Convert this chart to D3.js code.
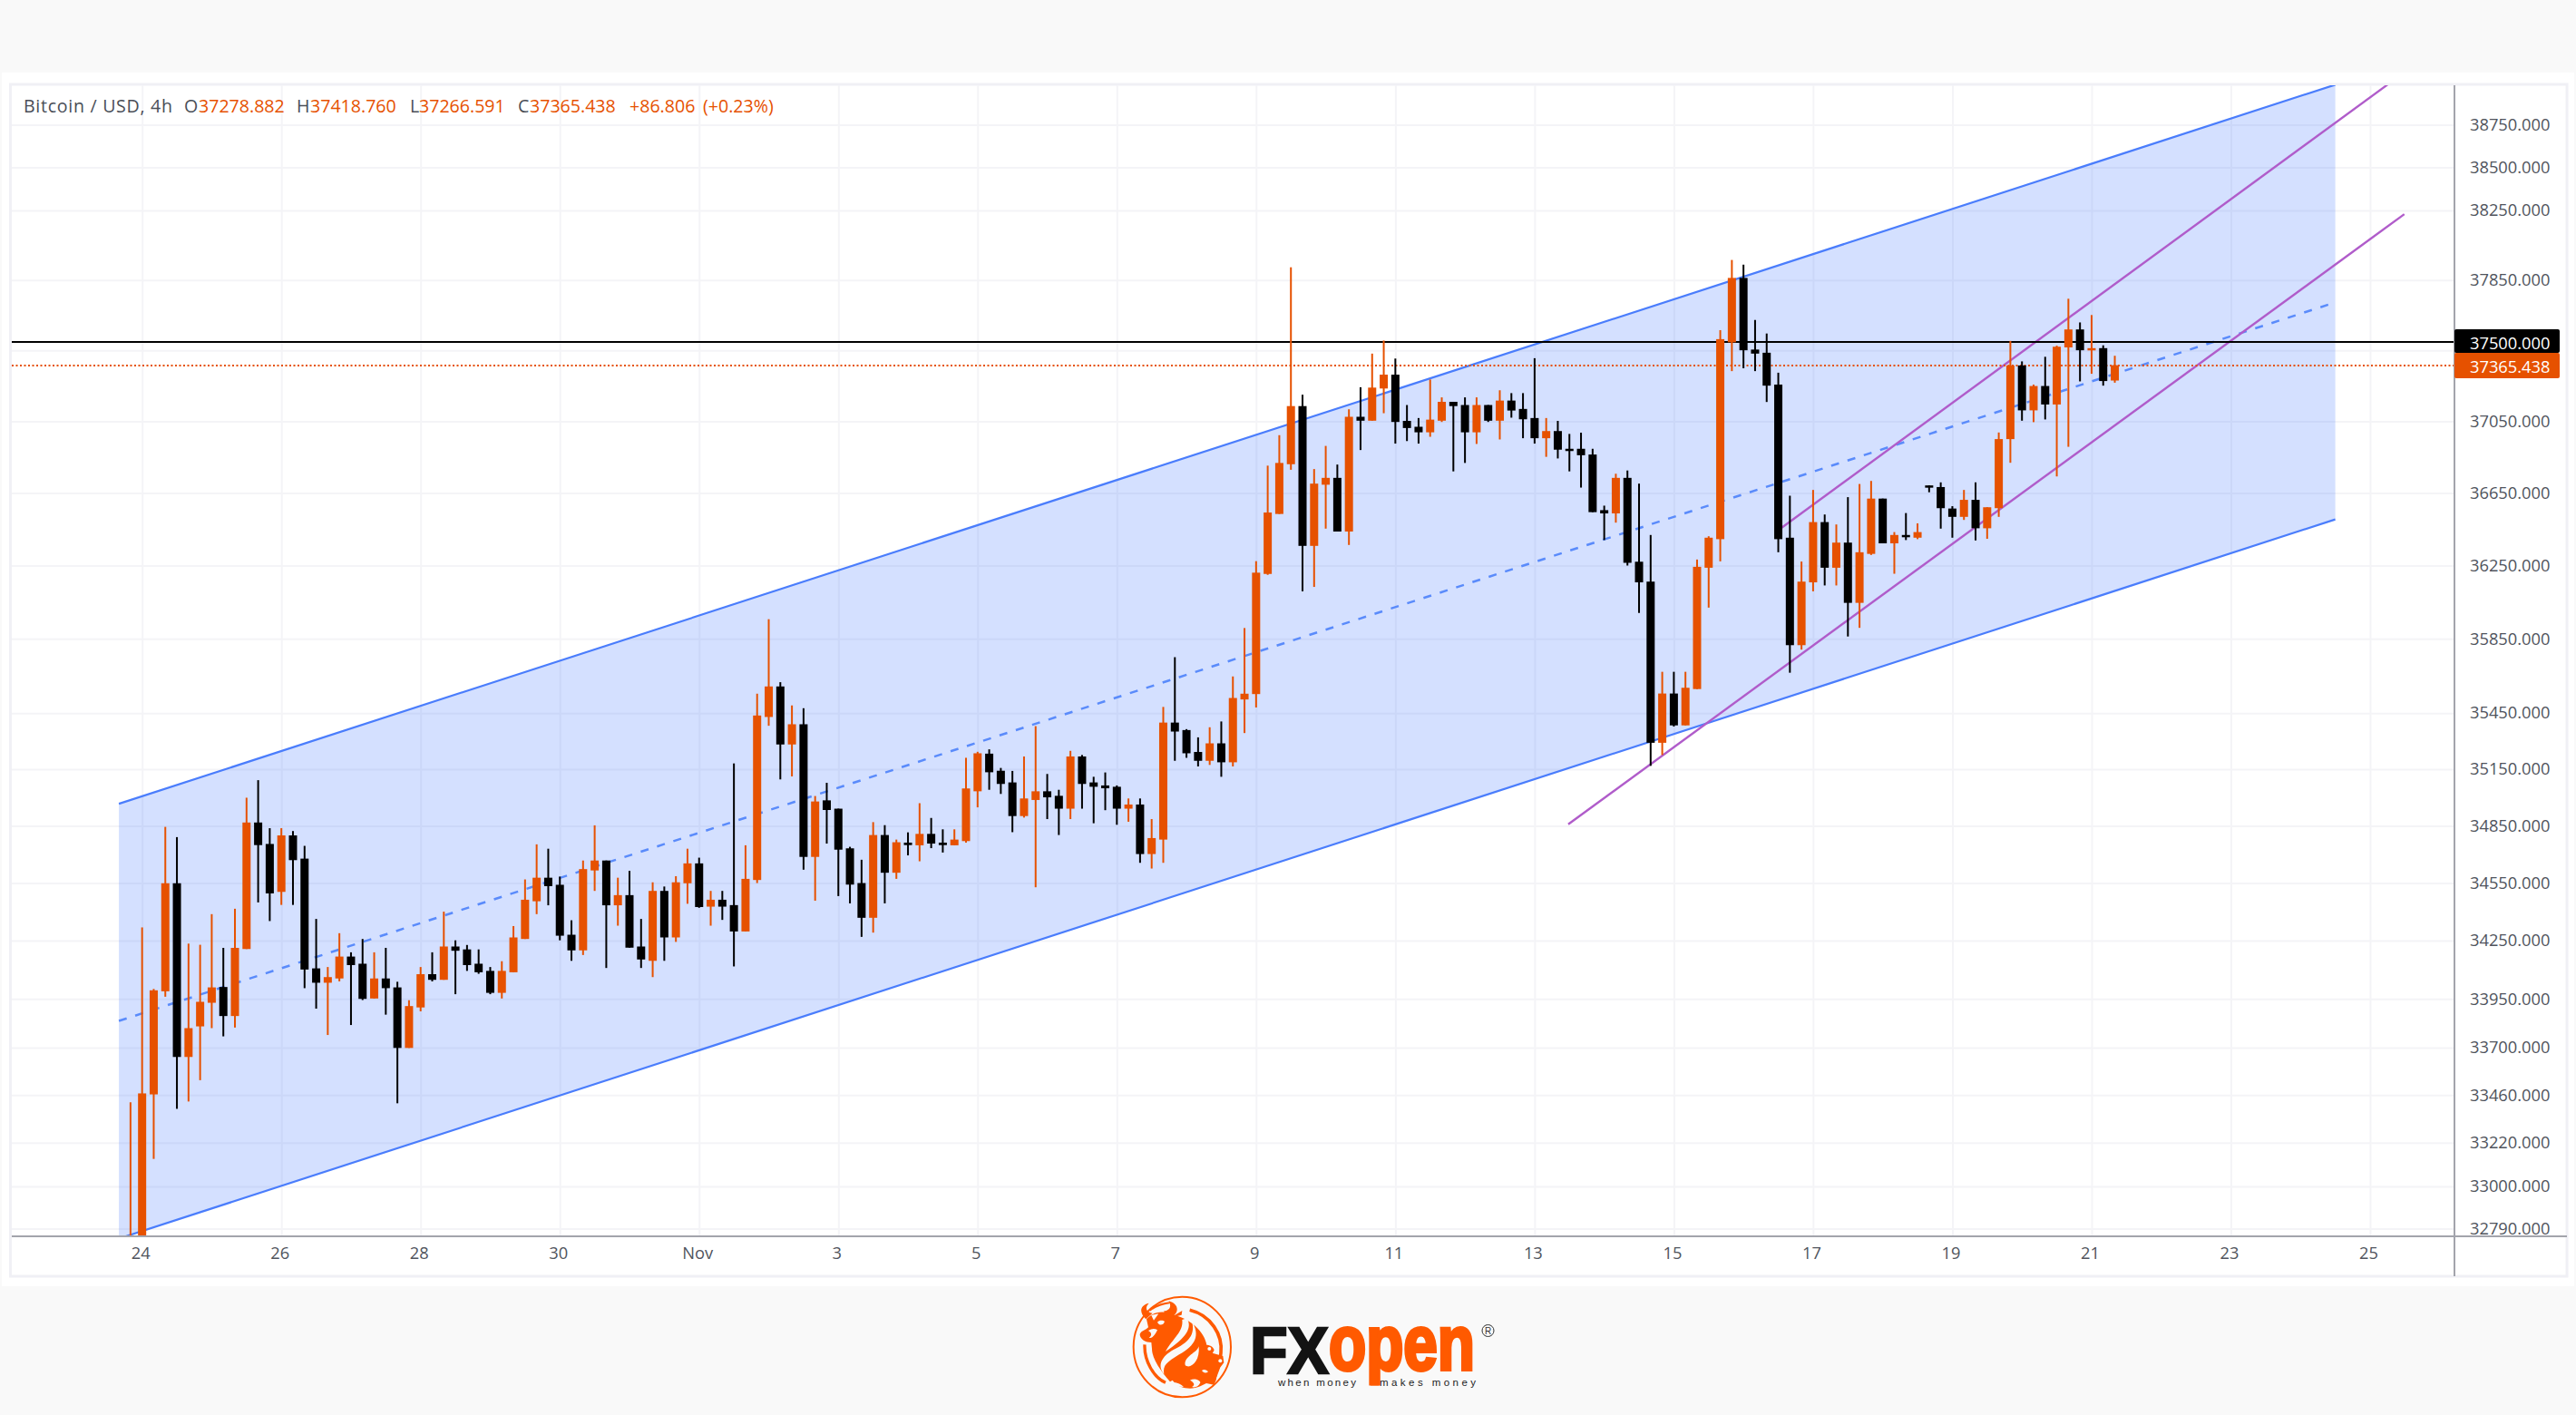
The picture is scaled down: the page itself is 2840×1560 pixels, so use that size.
<!DOCTYPE html>
<html><head><meta charset="utf-8">
<style>html,body{margin:0;padding:0;background:#f9f9f9}svg{display:block}</style>
<script src="https://cdn.jsdelivr.net/npm/d3@7"></script></head>
<body><svg id="c" width="2840" height="1560"></svg>
<script>
// candle index 0 = 24 Oct 00:00, one candle per 4 hours; the series starts at index -1
const firstIndex = -1;
const opens = [32600,32700,33463,33989,34549,33653,33809,33930,34011,33862,
34207,34868,34755,34504,34800,34678,34107,34033,34055,34168,
34131,33952,34055,34009,33699,33906,34077,34048,34220,34205,
34131,34094,33981,34087,34259,34455,34578,34541,34281,34200,
34616,34668,34434,34487,34220,34146,34509,34267,34549,34653,
34427,34463,34435,34298,34566,35429,35593,35282,35390,34687,
34985,34941,34732,34550,34369,34802,34604,34762,34748,34808,
34762,34748,34770,35033,35233,35142,35080,34902,34987,35033,
35009,34941,35218,35080,35064,35057,34941,34963,34702,34778,
35399,35359,35242,35195,35288,35187,35523,35552,36204,36534,
36810,37135,36358,36696,36734,36437,37075,37053,37234,37312,
37052,37019,36988,37053,37159,37141,36988,37141,37053,37166,
37119,37068,36955,36995,36896,36896,36864,36555,36537,36734,
36271,36162,35291,35555,35384,35579,36238,36395,37495,37862,
37454,37436,37256,36403,35816,36158,36489,36238,36376,36046,
36314,36619,36372,36418,36403,36692,36683,36564,36518,36612,
36455,36566,36950,37364,37111,37248,37144,37466,37568,37450,
37462,37278.882];
const highs = [33423,34319,34001,34845,34791,34235,34229,34388,34213,34416,
34999,35092,34838,34838,34823,34745,34363,34114,34289,34190,
34259,34190,34213,34038,33943,34114,34190,34401,34252,34228,
34205,34114,34144,34326,34569,34753,34730,34584,34356,34668,
34853,34668,34578,34614,34363,34554,34532,34586,34730,34683,
34509,34509,35181,34748,35554,35957,35616,35491,35476,35008,
35078,34941,34740,34672,34870,34854,34778,34816,34970,34892,
34832,34832,35211,35243,35256,35157,35141,35218,35380,35125,
35041,35248,35226,35110,35133,35064,34995,34995,34886,35483,
35751,35364,35320,35374,35405,35647,35909,36274,36802,36972,
37923,37199,36783,36912,36808,37117,37241,37431,37505,37403,
37141,37068,37285,37184,37159,37184,37184,37141,37224,37208,
37208,37405,37068,37052,36979,36986,36896,36580,36757,36775,
36702,36418,35672,35672,35672,36283,36411,37564,37965,37938,
37622,37545,37323,36635,36272,36667,36531,36476,36627,36700,
36717,36619,36434,36539,36482,36692,36709,36577,36667,36709,
36571,36987,37503,37387,37256,37413,37476,37743,37608,37650,
37478,37418.76];
const lows = [32500,32650,33138,33961,33390,33427,33535,33800,33758,33803,
34207,34449,34352,34436,34436,34005,33900,33765,34040,33816,
33944,33952,33869,33418,33699,33886,34040,34048,33974,34094,
34079,33974,33952,34087,34259,34388,34434,34252,34146,34176,
34509,34109,34328,34214,34109,34062,34146,34244,34442,34421,
34328,34358,34117,34298,34550,35382,35096,35112,34620,34458,
34757,34482,34444,34270,34292,34444,34572,34695,34664,34733,
34710,34748,34762,34948,35041,35019,34817,34894,34528,34886,
34802,34886,34941,34864,34933,34856,34872,34656,34626,34656,
35195,35211,35165,35173,35110,35165,35343,35480,36199,36534,
36779,36109,36133,36453,36437,36363,36889,37053,37095,36925,
36939,36925,36963,37046,36770,36817,36923,37046,36948,37070,
36955,36925,36851,36842,36770,36680,36544,36390,36486,36250,
35991,35168,35226,35378,35384,35579,36020,36273,37332,37348,
37332,37158,36323,35667,35792,36109,36141,36141,35863,35910,
36308,36372,36205,36390,36395,36654,36453,36403,36501,36388,
36397,36518,36818,37053,37045,37060,36742,36907,37274,37317,
37250,37266.591];
const closes = [32700,33468,33994,34549,33653,33800,33935,34009,33862,34213,
34868,34749,34496,34800,34670,34101,34033,34062,34168,34124,
33950,34055,34005,33699,33913,34077,34048,34220,34198,34124,
34087,33981,34094,34267,34463,34578,34534,34276,34200,34623,
34668,34434,34487,34214,34153,34509,34267,34554,34653,34425,
34463,34427,34298,34572,35437,35593,35282,35390,34687,34979,
34934,34725,34542,34369,34802,34604,34764,34749,34808,34757,
34749,34778,35048,35235,35134,35072,34902,34995,35033,35001,
34941,35218,35072,35057,35049,34941,34963,34702,34786,35399,
35351,35235,35195,35288,35187,35531,35554,36211,36542,36817,
37135,36358,36702,36734,36437,37075,37053,37239,37312,37046,
37012,36988,37059,37159,37135,36988,37141,37053,37166,37110,
37061,36955,36995,36891,36891,36860,36544,36537,36734,36265,
36158,35291,35555,35384,35586,36243,36403,37513,37862,37450,
37431,37250,36395,35816,36162,36489,36238,36376,36046,36323,
36619,36372,36418,36407,36434,36683,36566,36518,36612,36455,
36571,36950,37364,37111,37248,37144,37470,37568,37450,37462,
37276,37365.438];

const priceTicks = [38750,38500,38250,37850,37050,36650,36250,35850,35450,35150,34850,34550,34250,33950,33700,33460,33220,33000,32790];
const hiddenGridPrices = [37450];
const dayTickIndex = [0,12,24,36,48,60,72,84,96,108,120,132,144,156,168,180,192];
const dayTickLabels = ["24","26","28","30","Nov","3","5","7","9","11","13","15","17","19","21","23","25"];

const resistancePrice = 37500, lastPrice = 37365.438;
// drawings: [candle index, price]
const channelUpper = [[-2,34967],[189,38985]];
const channelMiddle = [[-2,33837],[189,37722]];
const channelLower = [[-2,32741],[189,36504]];
const purpleLower = [[122.9,34859],[194.95,38229]];
const purpleUpper = [[141.27,36457],[193.5,38985]];

const headerParts = [
 ["Bitcoin / USD, 4h",26,"#4a4e57",164],["O",203,"#4a4e57"],["37278.882",219,"#e65100"],
 ["H",327,"#4a4e57"],["37418.760",342,"#e65100"],["L",452,"#4a4e57"],["37266.591",462,"#e65100"],
 ["C",571,"#4a4e57"],["37365.438",584,"#e65100"],["+86.806",694,"#e65100"],["(+0.23%)",775,"#e65100"]];

const UP="#e65100", DOWN="#000000", FONT="'Open Sans',sans-serif";
const L=13,R=2706,T=94,B=1363,PR=2830,PB=1407;
const svg=d3.select("#c");

const x=d3.scaleLinear().domain([-11.23,199.27]).range([L,R]);
const y=d3.scaleLog().domain([32750,38979]).range([B+0.5,T+0.5]);

svg.append("rect").attr("width",2840).attr("height",1560).attr("fill","#f9f9f9");
svg.append("rect").attr("x",2).attr("y",80).attr("width",2836).attr("height",1338).attr("fill","#fff");
svg.append("rect").attr("x",11.5).attr("y",93).attr("width",PR-11.5).attr("height",PB-93).attr("fill","#fff").attr("stroke","#f0f0f5").attr("stroke-width",3);

const defs=svg.append("defs");
defs.append("clipPath").attr("id","plot").append("rect").attr("x",L).attr("y",T).attr("width",R-L).attr("height",B-T);

// grid via axes
const gridColor="#f4f4f7";
const gy=svg.append("g").attr("transform",`translate(${R},0)`)
  .call(d3.axisLeft(y).tickValues(priceTicks.concat(hiddenGridPrices)).tickSize(R-L).tickFormat(""));
const gx=svg.append("g").attr("transform",`translate(0,${B})`)
  .call(d3.axisTop(x).tickValues(dayTickIndex).tickSize(B-T).tickFormat(""));
[gy,gx].forEach(g=>{g.select(".domain").remove();g.selectAll("text").remove();g.selectAll("line").attr("stroke",gridColor).attr("stroke-width",2);});

const plot=svg.append("g").attr("clip-path","url(#plot)");
const lineGen=d3.line().x(d=>x(d[0])).y(d=>y(d[1]));

plot.append("path").attr("d",lineGen([channelUpper[0],channelUpper[1],channelLower[1],channelLower[0]])+"Z")
  .attr("fill","#2962ff").attr("fill-opacity",0.2);
[[channelUpper,null],[channelLower,null],[channelMiddle,"9 9.9"]].forEach(([d,dash])=>{
  plot.append("path").attr("d",lineGen(d)).attr("fill","none").attr("stroke",dash?"#5a8bfb":"#4a7dfc").attr("stroke-width",dash?2.5:2.2).attr("stroke-dasharray",dash);
});
[purpleLower,purpleUpper].forEach(d=>{
  plot.append("path").attr("d",lineGen(d)).attr("fill","none").attr("stroke","#b05cca").attr("stroke-width",2.4);
});
plot.append("line").attr("x1",L).attr("x2",R).attr("y1",Math.round(y(lastPrice))).attr("y2",Math.round(y(lastPrice)))
  .attr("stroke",UP).attr("stroke-width",2).attr("stroke-dasharray","2 2.5");
plot.append("line").attr("x1",L).attr("x2",R).attr("y1",Math.ceil(y(resistancePrice))).attr("y2",Math.ceil(y(resistancePrice)))
  .attr("stroke","#000").attr("stroke-width",2);

// candles
const candles=opens.map((o,i)=>({i:i+firstIndex,o,h:highs[i],l:lows[i],c:closes[i]}));
const cg=plot.append("g").selectAll("g").data(candles).join("g");
const col=d=>d.c>=d.o?UP:DOWN;
cg.append("rect").attr("x",d=>x(d.i)-1).attr("width",2)
  .attr("y",d=>y(d.h)).attr("height",d=>y(d.l)-y(d.h)).attr("fill",col);
cg.append("rect").attr("x",d=>x(d.i)-4.5).attr("width",9)
  .attr("y",d=>y(Math.max(d.o,d.c)))
  .attr("height",d=>Math.max(2.5,Math.abs(y(d.o)-y(d.c)))).attr("fill",col);

// axes
const ay=svg.append("g").attr("transform",`translate(${R},0)`)
  .call(d3.axisRight(y).tickValues(priceTicks).tickSize(0).tickPadding(17).tickFormat(d3.format(".3f")));
const ax=svg.append("g").attr("transform",`translate(-2,${B})`)
  .call(d3.axisBottom(x).tickValues(dayTickIndex).tickSize(0).tickPadding(12).tickFormat((d,i)=>dayTickLabels[i]));
[ay,ax].forEach(g=>{g.select(".domain").remove();g.selectAll("text").attr("font-family",FONT).attr("font-size",18.3).attr("fill","#50545d");});
svg.append("line").attr("x1",R).attr("x2",R).attr("y1",T).attr("y2",PB).attr("stroke","#a3a4ac").attr("stroke-width",2);
svg.append("line").attr("x1",L).attr("x2",PR).attr("y1",B).attr("y2",B).attr("stroke","#a3a4ac").attr("stroke-width",2);

// price labels
[[resistancePrice,"#000",363,26,2.5],[lastPrice,UP,389,28,1.5]].forEach(([p,c,yy,h,off])=>{
  svg.append("rect").attr("x",R).attr("y",yy).attr("width",116).attr("height",h).attr("rx",2).attr("fill",c);
  svg.append("text").attr("x",R+17).attr("y",yy+h/2+off).attr("dy","0.35em").attr("font-family",FONT).attr("font-size",18.3).attr("fill","#fff").text(d3.format(".3f")(p));
});

// header
svg.append("g").selectAll("text").data(headerParts).join("text")
  .attr("x",d=>d[1]).attr("y",117).attr("dy","0.35em").attr("font-family",FONT).attr("font-size",19.6)
  .attr("textLength",d=>d[3]||null).attr("fill",d=>d[2]).text(d=>d[0]);

// FXopen logo
const OR="#ff5a00", cut="#f9f9f9";
const logo=svg.append("g");
const em=logo.append("g").attr("transform","translate(1240,1425) scale(0.3333)");
em.append("ellipse").attr("cx",190).attr("cy",180).attr("rx",161).attr("ry",166).attr("fill","none").attr("stroke",OR).attr("stroke-width",6);
em.append("path").attr("fill","none").attr("stroke",OR).attr("stroke-width",11).attr("d","M215,58 C285,75 325,140 318,200 C315,240 305,270 290,292");
em.append("path").attr("fill","none").attr("stroke",OR).attr("stroke-width",10).attr("d","M66,172 C64,225 95,280 135,298");
em.append("path").attr("fill",OR).attr("d","M72,88 C95,62 130,58 165,75 C225,90 275,140 272,190 L290,200 L325,210 L328,232 L308,258 L302,290 L295,305 L270,300 L250,310 C215,325 175,315 158,290 L150,295 C120,260 90,220 90,185 L88,165 C70,165 50,155 50,138 C55,125 70,125 78,115 Z");
em.append("path").attr("fill",OR).attr("d","M70,88 C48,68 48,42 80,35 C66,50 70,64 92,68 Z M128,62 C150,60 156,45 145,28 C176,36 182,62 160,78 L190,60 L188,74 L150,84 Z M80,56 C100,42 125,33 148,31 L148,37 C125,40 100,50 84,62 Z M250,176 C268,170 290,172 296,190 L286,210 L262,205 Z");
em.append("path").attr("fill",cut).attr("d","M205,85 C225,115 205,150 135,195 C160,150 195,130 190,90 Z");
em.append("path").attr("fill",cut).attr("d","M222,95 C250,140 235,175 180,205 C140,230 125,240 130,270 C105,240 125,210 160,190 C210,165 235,140 222,95 Z");
em.append("path").attr("fill",cut).attr("d","M245,178 C240,200 195,210 200,240 C215,255 250,230 245,178 Z");
em.append("path").attr("fill",cut).attr("d","M108,98 C115,90 128,92 132,96 C128,108 115,112 108,98 Z");
em.append("path").attr("fill",cut).attr("d","M78,126 C90,118 100,118 108,124 C100,140 92,152 80,150 C92,140 88,132 78,126 Z");
em.append("path").attr("fill",cut).attr("d","M88,75 L112,70 L96,92 Z");
em.append("path").attr("fill",cut).attr("d","M216,290 C230,282 250,290 250,298 C245,312 230,316 222,312 C232,308 232,298 216,290 Z");
em.append("path").attr("fill",cut).attr("d","M255,258 C262,252 272,256 276,262 C268,268 260,266 255,258 Z");
em.append("circle").attr("cx",280).attr("cy",186).attr("r",6).attr("fill",cut);
em.append("circle").attr("cx",316).attr("cy",226).attr("r",6).attr("fill",cut);
em.append("path").attr("fill",cut).attr("d","M160,298 C170,296 185,302 195,312 C180,312 168,308 160,298 Z");

const WM="'Liberation Sans',sans-serif";
logo.append("text").attr("x",1378).attr("y",1514).attr("font-family",WM).attr("font-weight",700)
  .attr("font-size",73).attr("textLength",87).attr("lengthAdjust","spacingAndGlyphs").attr("fill","#131313").attr("stroke","#131313").attr("stroke-width",2.5).text("FX");
defs.append("clipPath").attr("id","pclip").append("rect").attr("x",1450).attr("y",1450).attr("width",190).attr("height",77.5);
logo.append("g").attr("clip-path","url(#pclip)").append("text").attr("x",1465).attr("y",1510).attr("font-family",WM).attr("font-weight",700)
  .attr("font-size",86).attr("textLength",161).attr("lengthAdjust","spacingAndGlyphs").attr("fill",OR).attr("stroke",OR).attr("stroke-width",4).text("open");
logo.append("text").attr("x",1409).attr("y",1528).attr("font-family",WM).attr("font-size",11.5)
  .attr("textLength",86).attr("fill","#222").text("when money");
logo.append("text").attr("x",1521).attr("y",1528).attr("font-family",WM).attr("font-size",11.5)
  .attr("textLength",106).attr("fill","#222").text("makes money");
logo.append("circle").attr("cx",1640.5).attr("cy",1467).attr("r",6.5).attr("fill","none").attr("stroke","#333").attr("stroke-width",1);
logo.append("text").attr("x",1640.5).attr("y",1471).attr("text-anchor","middle").attr("font-family",WM).attr("font-size",10).attr("fill","#333").text("R");
</script></body></html>
